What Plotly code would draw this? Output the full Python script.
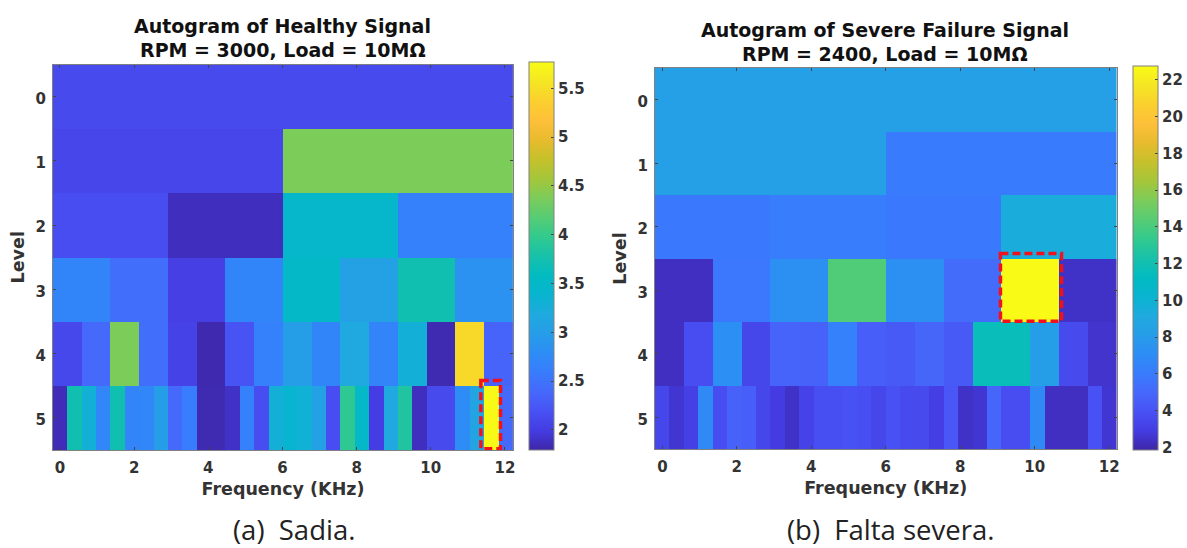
import numpy as np
import plotly.graph_objects as go

W, H = 1187, 548

# Colormap (MATLAB parula)
parula = [
    [0.00, "rgb(62,38,168)"], [0.05, "rgb(68,60,226)"], [0.10, "rgb(72,82,244)"],
    [0.15, "rgb(70,104,251)"], [0.20, "rgb(56,124,253)"], [0.25, "rgb(45,141,245)"],
    [0.30, "rgb(38,157,232)"], [0.35, "rgb(31,170,222)"], [0.40, "rgb(8,180,208)"],
    [0.45, "rgb(2,187,193)"], [0.50, "rgb(24,193,170)"], [0.55, "rgb(50,202,142)"],
    [0.60, "rgb(87,204,116)"], [0.65, "rgb(124,204,90)"], [0.70, "rgb(165,198,58)"],
    [0.75, "rgb(198,193,43)"], [0.80, "rgb(232,187,45)"], [0.85, "rgb(254,192,58)"],
    [0.90, "rgb(250,208,46)"], [0.95, "rgb(245,230,36)"], [1.00, "rgb(249,251,21)"],
]

levels = [0, 1, 2, 3, 4, 5]
x_ticks = [0, 2, 4, 6, 8, 10, 12]

# Healthy signal
h_title = "Autogram of Healthy Signal"
h_sub = "RPM = 3000, Load = 10MΩ"
h_caption = "(a)\u00a0\u00a0Sadia."
h_l0 = [2.13]
h_l1 = [2.08, 4.38]
h_l2 = [2.15, 1.87, 3.45, 2.65]
h_l3 = [2.7, 2.45, 2.02, 2.7, 3.5, 3.05, 3.72, 2.85]
h_l4 = [2.1, 2.4, 4.38, 2.45, 2.05, 1.82, 2.2, 2.65, 3.0, 2.7, 3.15, 2.68, 3.28, 1.83, 5.45, 2.35]
h_l5 = [1.85, 3.72, 3.3, 2.72, 3.72, 2.68, 2.72, 3.0, 2.4, 2.6, 1.83, 1.83, 1.9, 2.65, 2.15, 3.28,
        3.38, 3.32, 3.05, 2.15, 3.95, 3.5, 2.0, 3.15, 3.85, 1.87, 2.12, 2.12, 2.78, 3.1, 5.75, 2.4]
h_ticks = [2, 2.5, 3, 3.5, 4, 4.5, 5, 5.5]
h_range = [1.795, 5.77]
h_box_x = [11.35, 11.88]
h_box_y = [4.42, 5.48]

# Severe failure signal
s_title = "Autogram of Severe Failure Signal"
s_sub = "RPM = 2400, Load = 10MΩ"
s_caption = "(b)\u00a0\u00a0Falta severa."
s_l0 = [8.3]
s_l1 = [8.3, 6.0]
s_l2 = [5.9, 6.1, 5.9, 9.4]
s_l3 = [2.3, 5.8, 7.3, 14.2, 7.3, 5.2, 22.7, 2.4]
s_l4 = [2.3, 3.7, 7.2, 3.4, 4.8, 4.7, 6.3, 4.5, 4.3, 4.9, 4.3, 11.6, 11.6, 8.2, 3.6, 2.5]
s_l5 = [3.4, 2.6, 3.1, 6.9, 3.7, 4.7, 4.5, 3.4, 2.9, 2.4, 3.2, 3.8, 3.8, 3.9, 3.8, 3.4,
        3.9, 3.6, 3.6, 3.0, 4.2, 2.4, 2.6, 4.9, 3.7, 3.7, 6.9, 2.3, 2.3, 2.3, 3.9, 2.6]
s_ticks = [2, 4, 6, 8, 10, 12, 14, 16, 18, 20, 22]
s_range = [1.85, 22.76]
s_box_x = [9.08, 10.72]
s_box_y = [2.42, 3.49]


def grid(rows):
    n = len(rows[-1])
    return [np.repeat(r, n // len(r)).tolist() for r in rows]


def px(v):
    return v / W


def py(v):
    return 1 - v / H


TICK_FONT = dict(family="DejaVu Sans", size=15, color="#333333", weight=700)
TITLE_FONT = dict(family="DejaVu Sans", size=19, color="#111111", weight=700)
LABEL_FONT = dict(family="DejaVu Sans", size=17.5, color="#333333", weight=700)
CAP_FONT = dict(family="Open Sans", size=27.5, color="#222222")
AXIS_GRAY = "#808080"

panels = [
    dict(rows=[h_l0, h_l1, h_l2, h_l3, h_l4, h_l5], rng=h_range, ticks=h_ticks, box=(h_box_x, h_box_y),
         xdom=(53, 514), ydom=(64.5, 450), xr=(-0.19, 12.22), cb=(530, 555, 62, 450),
         title=h_title, sub=h_sub, cap=h_caption, tx=283, ty=(26, 50), capx=294),
    dict(rows=[s_l0, s_l1, s_l2, s_l3, s_l4, s_l5], rng=s_range, ticks=s_ticks, box=(s_box_x, s_box_y),
         xdom=(656, 1118.5), ydom=(68, 449), xr=(-0.2, 12.2), cb=(1135, 1160, 66, 450),
         title=s_title, sub=s_sub, cap=s_caption, tx=886, ty=(30, 54), capx=892),
]

fig = go.Figure()
annotations, shapes = [], []
for i, p in enumerate(panels, start=1):
    z = grid(p["rows"])
    xe = np.linspace(p["xr"][0], p["xr"][1], len(z[-1]) + 1)
    ye = np.arange(len(levels) + 1) - 0.5
    l, r, t, b = p["cb"]
    fig.add_trace(go.Heatmap(
        z=z, x=xe, y=ye, zmin=p["rng"][0], zmax=p["rng"][1], colorscale=parula,
        xaxis=f"x{i}", yaxis=f"y{i}", hoverongaps=False,
        colorbar=dict(
            x=px(l), xanchor="left", y=py(b), yanchor="bottom",
            len=(b - t) / H, lenmode="fraction", thickness=r - l, thicknessmode="pixels",
            xpad=0, ypad=0, outlinecolor=AXIS_GRAY, outlinewidth=1,
            ticks="inside", ticklen=3, tickcolor="#444444", tickvals=p["ticks"],
            ticktext=[f"{v:g}" for v in p["ticks"]], tickfont=TICK_FONT,
        ),
    ))
    axis_common = dict(showline=True, linecolor=AXIS_GRAY, linewidth=1, mirror="ticks", ticks="inside",
                       ticklen=3, tickcolor="#444444", showgrid=False, zeroline=False, tickfont=TICK_FONT)
    fig.update_layout({
        f"xaxis{i}": dict(domain=[px(p["xdom"][0]), px(p["xdom"][1])], range=list(p["xr"]), anchor=f"y{i}",
                          tickvals=x_ticks, ticklabelstandoff=4,
                          title=dict(text="Frequency (KHz)", font=LABEL_FONT, standoff=6),
                          **axis_common),
        f"yaxis{i}": dict(domain=[py(p["ydom"][1]), py(p["ydom"][0])], range=[5.5, -0.5], anchor=f"x{i}",
                          tickvals=levels, ticklabelstandoff=3, ticklabelshift=-2,
                          title=dict(text="Level", font=LABEL_FONT, standoff=6),
                          **axis_common),
    })
    bx, by = p["box"]
    shapes.append(dict(type="rect", xref=f"x{i}", yref=f"y{i}", x0=bx[0], x1=bx[1], y0=by[0], y1=by[1],
                       line=dict(color="#F0101E", width=3.5, dash="8px,4px")))
    for text, yy in zip((p["title"], p["sub"]), p["ty"]):
        annotations.append(dict(text=text, x=px(p["tx"]), y=py(yy), xref="paper", yref="paper",
                                xanchor="center", yanchor="middle", showarrow=False, font=TITLE_FONT))
    annotations.append(dict(text=p["cap"], x=px(p["capx"]), y=py(529), xref="paper", yref="paper",
                            xanchor="center", yanchor="middle", showarrow=False, font=CAP_FONT))

fig.update_layout(width=W, height=H, margin=dict(l=0, r=0, t=0, b=0), paper_bgcolor="white",
                  plot_bgcolor="white", annotations=annotations, shapes=shapes, showlegend=False)
fig.write_html("out.html", config={"displayModeBar": False},
               post_script="document.body.style.margin='0';document.documentElement.style.overflow='hidden';")
